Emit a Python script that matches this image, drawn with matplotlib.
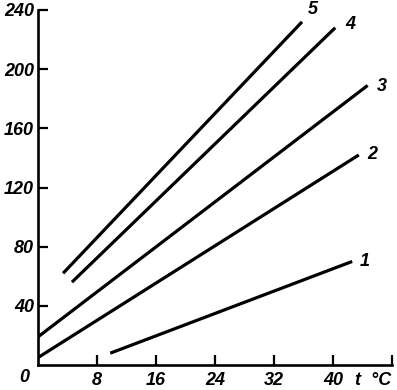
import matplotlib.pyplot as plt

# line end points (t in °C, value)
line_names = ["1", "2", "3", "4", "5"]
t_start = [9.8, 0.0, 0.0, 4.6, 3.4]
t_end = [42.6, 43.5, 44.7, 40.3, 35.8]
v_start = [8, 5, 19, 56, 62]
v_end = [70, 142, 189, 228, 232]
# label offsets from line end, in points
label_dx = [9, 10, 10, 11, 8]
label_dy = [0, 0, -1, 2, 9]

x_ticks = [8, 16, 24, 32, 40, 48]
x_ticklabels = ["8", "16", "24", "32", "40", ""]
y_ticks = [40, 80, 120, 160, 200, 240]
y_ticklabels = ["40", "80", "120", "160", "200", "240"]

plt.rcParams["font.family"] = ["Liberation Sans", "DejaVu Sans"]
plt.rcParams["font.style"] = "italic"
plt.rcParams["font.weight"] = "bold"

fig = plt.figure(figsize=(3.97, 3.90), dpi=100)
ax = fig.add_axes([38 / 397, 25 / 390, (392 - 38) / 397, (365 - 10) / 390])

for name, x0, x1, y0, y1, dx, dy in zip(line_names, t_start, t_end, v_start, v_end,
                                         label_dx, label_dy):
    ax.plot([x0, x1], [y0, y1], color="black", lw=2.3, solid_capstyle="butt")
    ax.annotate(name, (x1, y1), xytext=(dx, dy), textcoords="offset points",
                ha="center", va="center", fontsize=13)

ax.set_xlim(0, 48)
ax.set_ylim(0, 240)
ax.spines["top"].set_visible(False)
ax.spines["right"].set_visible(False)
for s in ("left", "bottom"):
    ax.spines[s].set_linewidth(1.9)

ax.set_xticks(x_ticks)
ax.set_xticklabels(x_ticklabels)
ax.set_yticks(y_ticks)
ax.set_yticklabels(y_ticklabels)
ax.tick_params(direction="in", length=7, width=1.6, labelsize=13)
ax.tick_params(axis="x", pad=5)
ax.tick_params(axis="y", pad=3)

ax.text(-0.04, -0.035, "0", transform=ax.transAxes, ha="center", va="center",
        fontsize=13)
ax.text(45.4, -5, "t  °C", ha="center", va="top", fontsize=13, clip_on=False)

fig.savefig("out.png", dpi=100)
